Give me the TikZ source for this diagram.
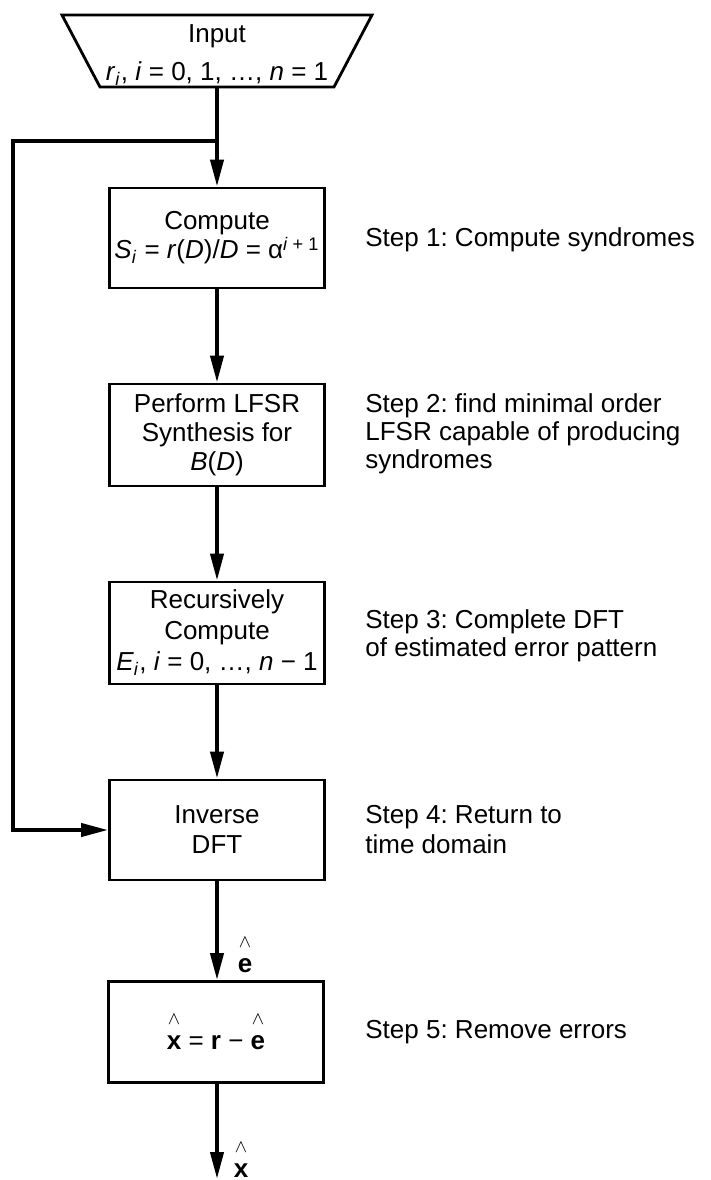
\documentclass[tikz,border=0pt]{standalone}
\usepackage{fontspec}
\setmainfont{Liberation Sans}
\usetikzlibrary{arrows.meta}
\frenchspacing
\newcommand{\hv}[1]{\shortstack{{\fontsize{9}{9}\selectfont$\wedge$}\\[2.5pt]\textbf{#1}}}
\newcommand{\iv}[1]{\textit{#1}}
\newcommand{\sbi}[1]{\textsubscript{\textit{#1}}}
\begin{document}
\begin{tikzpicture}[x=0.5pt,y=-0.5pt,
  box/.style={draw,line width=1.4pt,minimum width=107.5pt,minimum height=50pt,align=center,inner sep=0pt,font=\fontsize{13}{14.5}\selectfont},
  flow/.style={line width=2pt},
  arr/.style={flow,-{Triangle[length=13.5pt,width=6.5pt]}},
  steptext/.style={anchor=west,align=left,inner sep=0pt,font=\fontsize{13}{14}\selectfont},
  plain/.style={inner sep=0pt,align=center,font=\fontsize{13}{14}\selectfont}]
\useasboundingbox (0,0) rectangle (711,1180);
% input trapezoid
\draw[line width=1.4pt] (62,15) -- (372,15) -- (334,87) -- (100,87) -- cycle;
\node[plain,font=\fontsize{13}{19}\selectfont] (in) at (217,55) {Input\\ \iv{r}\sbi{i}, \iv{i} = 0, 1, \dots, \iv{n} = 1};
\coordinate (inb) at (217,87);
\coordinate (split) at (217,141);
\coordinate (lt) at (13,141);
\coordinate (lb) at (13,830);
% boxes
\node[box] (b1) at (217,238) {Compute\\ \iv{S}\sbi{i} = \iv{r}(\iv{D})/\iv{D} = α\textsuperscript{\iv{i} + 1}};
\node[box,minimum height=51pt] (b2) at (217,435) {Perform LFSR\\ Synthesis for\\ \iv{B}(\iv{D})};
\node[box,minimum height=51pt,font=\fontsize{13}{15.5}\selectfont] (b3) at (217,633) {Recursively\\ Compute\\ \iv{E}\sbi{i}, \iv{i} = 0, \dots, \iv{n} − 1};
\node[box,font=\fontsize{13}{15}\selectfont] (b4) at (217,830) {Inverse\\ DFT};
\node[box,minimum height=50.5pt] (b5) at (216,1032) {\hv{x} = \textbf{r} − \hv{e}};
% step texts
\node[steptext] (s1) at (365,240) {Step 1: Compute syndromes};
\node[steptext] (s2) at (365,434) {Step 2: find minimal order\\ LFSR capable of producing\\ syndromes};
\node[steptext] (s3) at (365,636) {Step 3: Complete DFT\\ of estimated error pattern};
\node[steptext,font=\fontsize{13}{15}\selectfont] (s4) at (365,830) {Step 4: Return to\\ time domain};
\node[steptext] (s5) at (365,1032) {Step 5: Remove errors};
% labels
\node[plain] (elab) at (245,955) {\hv{e}};
\node[plain] (xlab) at (241,1160) {\hv{x}};
\coordinate (out) at (217,1179);
% connectors
\draw[arr] (inb) -- (b1.north);
\draw[arr] (split) -- (lt) -- (lb) -- (b4.west);
\draw[arr] (b1.south) -- (b2.north);
\draw[arr] (b2.south) -- (b3.north);
\draw[arr] (b3.south) -- (b4.north);
\draw[arr] (b4.south) -- (b5.north -| b4.south);
\draw[arr] (b5.south -| b4.south) -- (out);
\end{tikzpicture}
\end{document}
